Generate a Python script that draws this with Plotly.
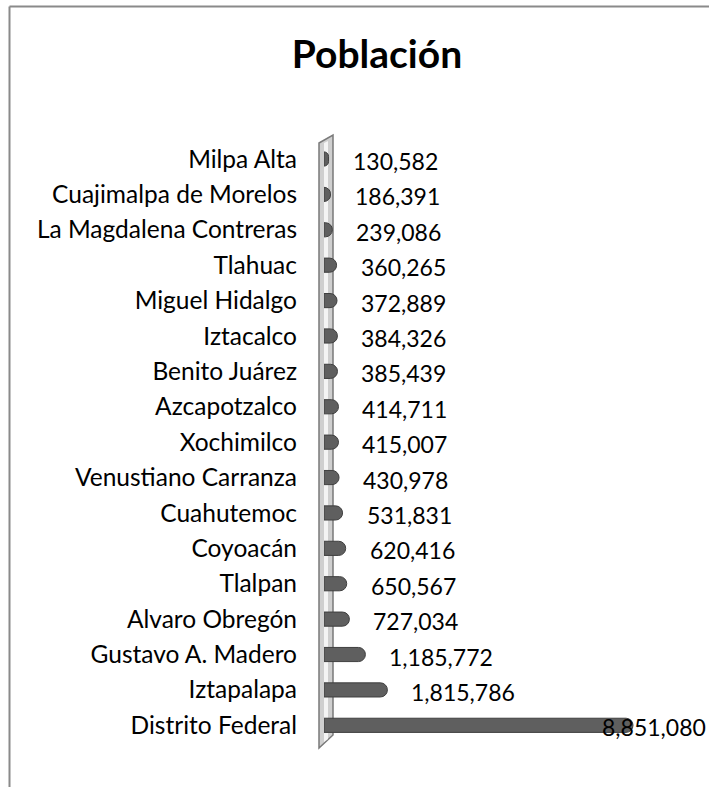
import plotly.graph_objects as go

categories = ["Milpa Alta", "Cuajimalpa de Morelos", "La Magdalena Contreras", "Tlahuac",
              "Miguel Hidalgo", "Iztacalco", "Benito Juárez", "Azcapotzalco", "Xochimilco",
              "Venustiano Carranza", "Cuahutemoc", "Coyoacán", "Tlalpan", "Alvaro Obregón",
              "Gustavo A. Madero", "Iztapalapa", "Distrito Federal"]
values = [130582, 186391, 239086, 360265, 372889, 384326, 385439, 414711, 415007,
          430978, 531831, 620416, 650567, 727034, 1185772, 1815786, 8851080]
value_labels = [f"{v:,}" for v in values]
title_text = "Población"

W, H = 709, 787
L, R, T, B = 324, 9, 141, 44
PW, PH = W - L - R, H - T - B
xmax = max(values) * PW / 309.0

def px(x):
    return (x - L) / PW

def py(y):
    return (H - B - y) / PH

FONT = "Lato"

fig = go.Figure()
fig.add_trace(go.Bar(
    y=categories, x=values, orientation="h",
    marker=dict(color="#5f5f5f", line=dict(color="#3f3f3f", width=1)),
    hoverinfo="skip",
))

annotations = []
for c, v, t in zip(categories, values, value_labels):
    end_px = L + v / xmax * PW + 22
    est_w = len(t) * 12.5
    if end_px + est_w > W:
        annotations.append(dict(x=px(W - 1), y=c, xref="paper", yref="y", text=t,
                                showarrow=False, xanchor="right", yshift=-2,
                                font=dict(family=FONT, size=23, color="#000")))
    else:
        annotations.append(dict(x=v, y=c, xref="x", yref="y", text=t, showarrow=False,
                                xanchor="left", xshift=22, yshift=-2,
                                font=dict(family=FONT, size=23, color="#000")))

shapes = [
    # chart border (top and left)
    dict(type="line", xref="paper", yref="paper", x0=px(9.5), x1=px(W + 2), y0=py(6.5), y1=py(6.5),
         line=dict(color="#8a8a8a", width=2), layer="above"),
    dict(type="line", xref="paper", yref="paper", x0=px(9.5), x1=px(9.5), y0=py(6.5), y1=py(H + 2),
         line=dict(color="#8a8a8a", width=2), layer="above"),
    # 3D wall
    dict(type="path", xref="paper", yref="paper",
         path=f"M {px(319)} {py(143)} L {px(333)} {py(135)} L {px(333)} {py(735)} L {px(319)} {py(748)} Z",
         fillcolor="#cfcfcf", line=dict(color="#7a7a7a", width=1.5), layer="below"),
    dict(type="path", xref="paper", yref="paper",
         path=f"M {px(324)} {py(143)} L {px(328)} {py(141)} L {px(328)} {py(739)} L {px(324)} {py(742)} Z",
         fillcolor="#f4f4f4", line=dict(width=0), layer="below"),
]

fig.update_layout(
    width=W, height=H,
    margin=dict(l=L, r=R, t=T, b=B),
    paper_bgcolor="white", plot_bgcolor="rgba(0,0,0,0)",
    title=dict(text=f"<b>{title_text}</b>", xref="container", yref="container",
               x=377 / W, xanchor="center", y=1 - 54 / H,
               yanchor="middle", font=dict(family=FONT, size=39, color="#000")),
    bargap=0.6,
    barcornerradius=7,
    showlegend=False,
    xaxis=dict(range=[0, xmax], visible=False, fixedrange=True),
    yaxis=dict(autorange="reversed", showgrid=False, zeroline=False, showline=False,
               ticks="", ticklabelstandoff=26, tickfont=dict(family=FONT, size=24.5, color="#000")),
    annotations=annotations,
    shapes=shapes,
)

fig.write_html("out.html")
